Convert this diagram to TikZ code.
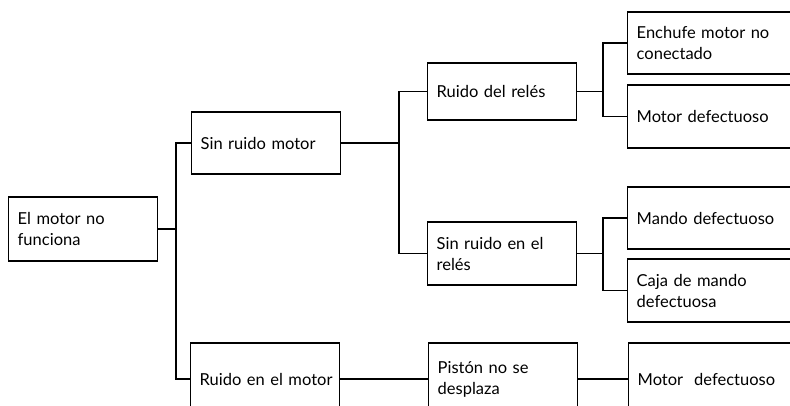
\documentclass[tikz,border=0pt]{standalone}
\usepackage{fontspec}
\setmainfont{Lato}
\usetikzlibrary{calc,positioning}
\definecolor{inkblack}{RGB}{0,0,0}
\tikzset{
  fault/.style={draw=inkblack,line width=1.4pt,fill=white,anchor=west,
    align=left,text width=131pt,inner xsep=9pt,inner ysep=0pt,
    font=\fontsize{16.5}{21}\selectfont},
  widefault/.style={fault,text width=200pt},
  link/.style={draw=inkblack,line width=1.4pt}
}
\begin{document}
\begin{tikzpicture}[x=1pt,y=-1pt]
  \useasboundingbox (0,0) rectangle (790,405);
  \clip (0,0) rectangle (790,405);
  % first and second level
  \node[fault,minimum height=64pt] (root) at (8,229) {El motor no\\funciona};
  \node[fault,minimum height=62pt] (nomotor) at (191,143) {Sin ruido motor};
  \node[fault,minimum height=72pt] (ruidomotor) at (190,379) {\mbox{Ruido en el motor}};
  % third level
  \node[fault,minimum height=57pt] (ruidorele) at (427,91.5) {Ruido del relés};
  \node[fault,minimum height=63pt] (norele) at (427,253.5) {Sin ruido en el\\relés};
  \node[fault,minimum height=72pt] (piston) at (428,379) {Pistón no se\\desplaza};
  % causes
  \node[widefault,minimum height=62pt] (enchufe) at (627,43) {Enchufe motor no\\conectado};
  \node[widefault,minimum height=63pt] (motorA) at (627,116.5) {Motor defectuoso};
  \node[widefault,minimum height=62pt] (mando) at (627,218) {Mando defectuoso};
  \node[widefault,minimum height=63pt] (caja) at (627,290.5) {Caja de mando\\defectuosa};
  \node[widefault,minimum height=72pt] (motorB) at (628,379) {Motor~~defectuoso};
  % tree connectors
  \coordinate (busA) at (176,0);
  \coordinate (busB) at (399,0);
  \coordinate (busC) at (603,0);
  \draw[link] (root.east) -- (root.east -| busA);
  \draw[link] (nomotor.west) -| (root.east -| busA) |- (ruidomotor.west);
  \draw[link] (nomotor.east) -- (nomotor.east -| busB);
  \draw[link] (ruidorele.west) -| (nomotor.east -| busB) |- (norele.west);
  \draw[link] (ruidorele.east) -- (ruidorele.east -| busC);
  \draw[link] (enchufe.west) -| (ruidorele.east -| busC) |- (motorA.west);
  \draw[link] (norele.east) -- (norele.east -| busC);
  \draw[link] (mando.west) -| (norele.east -| busC) |- (caja.west);
  \draw[link] (ruidomotor) -- (piston);
  \draw[link] (piston) -- (motorB);
\end{tikzpicture}
\end{document}
